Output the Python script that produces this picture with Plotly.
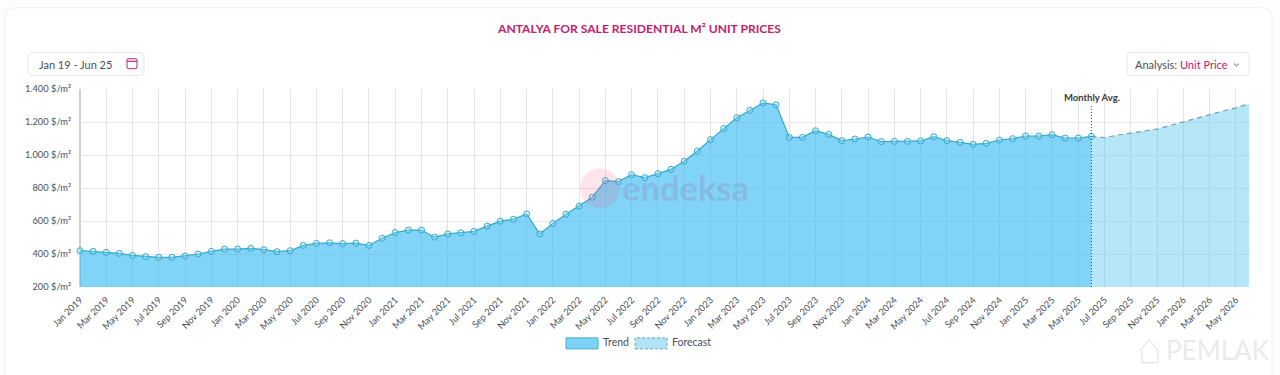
import plotly.graph_objects as go

MONTHS = ["Jan", "Feb", "Mar", "Apr", "May", "Jun", "Jul", "Aug", "Sep", "Oct", "Nov", "Dec"]
categories = [f"{MONTHS[i % 12]} {2019 + i // 12}" for i in range(90)]

trend_values = [
    420, 416, 410, 404, 392, 384, 380, 380, 388, 400, 416, 430,
    430, 434, 426, 414, 420, 452, 464, 468, 463, 466, 452, 495,
    530, 545, 545, 502, 522, 528, 537, 569, 599, 611, 643, 522,
    585, 641, 690, 744, 845, 839, 881, 863, 887, 913, 962, 1024,
    1093, 1161, 1226, 1270, 1316, 1304, 1107, 1107, 1147, 1125, 1087, 1097,
    1109, 1081, 1083, 1083, 1085, 1111, 1087, 1077, 1065, 1071, 1091, 1099,
    1115, 1115, 1123, 1103, 1103, 1113,
]
forecast_values = [1113, 1105, 1121, 1135, 1145, 1157, 1179, 1203, 1226, 1246, 1266, 1286, 1310]

y_ticks = [200, 400, 600, 800, 1000, 1200, 1400]
y_labels = ["200 $/m²", "400 $/m²", "600 $/m²", "800 $/m²", "1.000 $/m²", "1.200 $/m²", "1.400 $/m²"]

FONT = "Lato"
TEXT = "#4a4f57"
PINK = "#c4206f"

L, R, T, B = 80.0, 1249.0, 88.5, 287.0


def X(v):
    return (v - L) / (R - L)


def Y(v):
    return (B - v) / (B - T)


fig = go.Figure()
fig.add_trace(go.Scatter(
    x=categories[:len(trend_values)], y=trend_values, name="Trend", mode="lines+markers",
    fill="tozeroy", fillcolor="rgba(55,187,243,0.63)",
    line=dict(color="#35a9cc", width=1.2),
    marker=dict(size=6, color="rgba(150,225,245,0.3)", line=dict(color="#35a9cc", width=1)),
    cliponaxis=False, showlegend=False,
))
fig.add_trace(go.Scatter(
    x=categories[len(trend_values) - 1:], y=forecast_values, name="Forecast", mode="lines",
    fill="tozeroy", fillcolor="rgba(79,197,240,0.42)",
    line=dict(color="#6f9fb2", width=1.2, dash="5px,4px"),
    showlegend=False,
))


def px_rect(x0, y0, x1, y1, r=0, **kw):
    if r:
        path = (f"M {X(x0 + r)} {Y(y0)} L {X(x1 - r)} {Y(y0)} Q {X(x1)} {Y(y0)} {X(x1)} {Y(y0 + r)} "
                f"L {X(x1)} {Y(y1 - r)} Q {X(x1)} {Y(y1)} {X(x1 - r)} {Y(y1)} "
                f"L {X(x0 + r)} {Y(y1)} Q {X(x0)} {Y(y1)} {X(x0)} {Y(y1 - r)} "
                f"L {X(x0)} {Y(y0 + r)} Q {X(x0)} {Y(y0)} {X(x0 + r)} {Y(y0)} Z")
        return dict(type="path", xref="paper", yref="paper", path=path, **kw)
    return dict(type="rect", xref="paper", yref="paper", x0=X(x0), x1=X(x1), y0=Y(y1), y1=Y(y0), **kw)


def poly(points, **kw):
    path = "M " + " L ".join(f"{X(a)} {Y(b)}" for a, b in points)
    return dict(type="path", xref="paper", yref="paper", path=path, **kw)


def text(x, y, s, size=11, color=TEXT, anchor="left", bold=False, font=FONT):
    return dict(xref="paper", yref="paper", x=X(x), y=Y(y), text=f"<b>{s}</b>" if bold else s,
                showarrow=False, xanchor=anchor, yanchor="middle", borderpad=0, borderwidth=0,
                font=dict(family=font, size=size, color=color))


shapes = [
    px_rect(5, 7, 1272, 400, r=10, line=dict(color="#eeeeee", width=1), fillcolor="#ffffff", layer="below"),
    px_rect(28, 52, 144, 75, r=4, line=dict(color="#e6e8ec", width=1), fillcolor="#ffffff", layer="below"),
    px_rect(1127, 52, 1249, 75, r=4, line=dict(color="#e6e8ec", width=1), fillcolor="#ffffff", layer="below"),
    # calendar icon
    px_rect(127, 58, 137, 68, r=2, line=dict(color="#b5588f", width=1.2), fillcolor="rgba(0,0,0,0)"),
    px_rect(127, 60.5, 137, 61, line=dict(color="#b5588f", width=1), fillcolor="#b5588f"),
    # dropdown chevron
    poly([(1234, 63), (1236.5, 65.5), (1239, 63)], line=dict(color="#555555", width=1)),
    # logo mark
    dict(type="circle", xref="paper", yref="paper", layer="above",
         x0=X(580), x1=X(620), y0=Y(208), y1=Y(168),
         fillcolor="rgba(245,80,120,0.15)", line=dict(width=0)),
    # legend swatches
    px_rect(566, 338, 598, 349, line=dict(color="#45aecb", width=1), fillcolor="#7dd3f7"),
    px_rect(635, 338, 667, 349, line=dict(color="#6f9fb2", width=1, dash="3px,2px"), fillcolor="#b0e5f8"),
    # left axis line
    dict(type="line", xref="paper", yref="paper", x0=0, x1=0, y0=0, y1=1,
         line=dict(color="#cfcfcf", width=2), layer="below"),
    # Monthly Avg. marker
    dict(type="line", xref="x", yref="y", x0=categories[77], x1=categories[77], y0=200, y1=1295,
         line=dict(color="#444444", width=1, dash="1px,2px")),
    # watermark house
    poly([(1140, 351), (1149, 340), (1158, 351), (1158, 363), (1142, 363), (1142, 351)],
         line=dict(color="#dcdcdc", width=1)),
]

annotations = [
    text(639, 28, "ANTALYA FOR SALE RESIDENTIAL M² UNIT PRICES", size=12.1, color=PINK, anchor="center", bold=True),
    text(38.5, 63.5, "Jan 19 - Jun 25", size=11, color=TEXT),
    text(1135, 63.5, f"Analysis: <span style='color:{PINK}'>Unit Price</span>", size=11, color=TEXT),
    text(1092, 97, "Monthly Avg.", size=9.5, color="#3b3b3b", anchor="center", bold=True),
    text(622, 187, "endeksa", size=34.5, color="rgba(150,130,190,0.33)", bold=True),
    text(603, 342.5, "Trend", size=10.5, color=TEXT),
    text(672, 342.5, "Forecast", size=10.5, color=TEXT),
    text(1166, 350, "PEMLAK", size=26, color="rgba(200,200,200,0.4)"),
]

fig.update_layout(
    width=1280, height=375, autosize=False,
    margin=dict(l=L, r=1280 - R, t=T, b=375 - B, pad=0),
    paper_bgcolor="#fdfdfd", plot_bgcolor="rgba(0,0,0,0)",
    font=dict(family=FONT, size=10.5, color=TEXT),
    showlegend=False, hovermode=False,
    shapes=shapes, annotations=annotations,
)
fig.update_xaxes(
    type="category", categoryorder="array", categoryarray=categories,
    range=[0, 89], tickmode="array", tickvals=categories[::2], ticktext=categories[::2],
    tickangle=-45, ticks="outside", ticklen=3, tickcolor="rgba(0,0,0,0)", showgrid=True,
    gridcolor="#e4e4e4", gridwidth=1,
    showline=False, zeroline=False, tickfont=dict(size=9.3, color=TEXT),
)
fig.update_yaxes(
    range=[200, 1400], tickmode="array", tickvals=y_ticks, ticktext=y_labels,
    showgrid=True, gridcolor="#e8e8e8", gridwidth=1, zeroline=False, showline=False,
    ticks="outside", ticklen=6, tickcolor="rgba(0,0,0,0)", tickfont=dict(size=9.3, color=TEXT),
)

fig.write_html("out.html", config={"displayModeBar": False},
               post_script="document.body.style.margin='0';")
